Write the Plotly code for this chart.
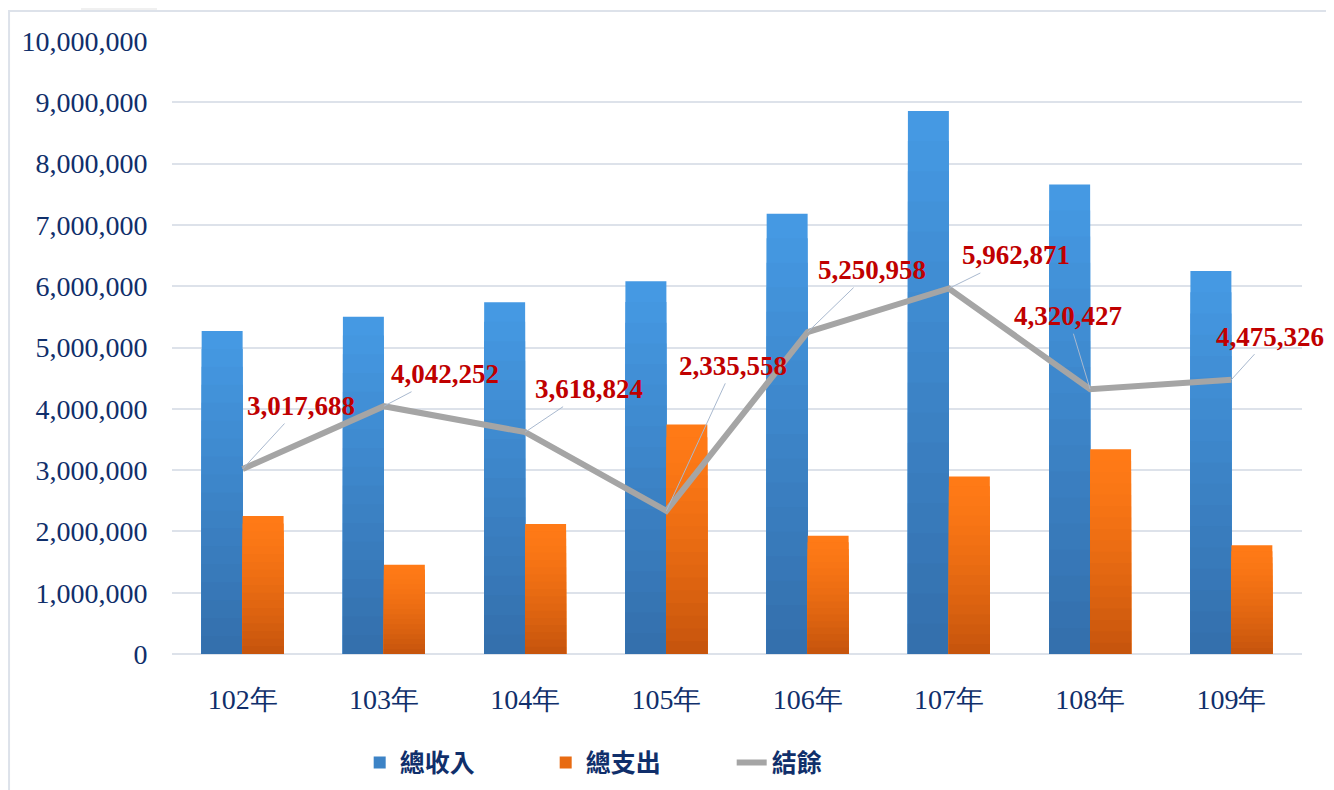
import plotly.graph_objects as go

years = ["102年", "103年", "104年", "105年", "106年", "107年", "108年", "109年"]
income = [5270000, 5500000, 5740000, 6080000, 7180000, 8860000, 7660000, 6250000]
expense = [2252312, 1457748, 2121176, 3744442, 1929042, 2897129, 3339573, 1774674]
balance = [3017688, 4042252, 3618824, 2335558, 5250958, 5962871, 4320427, 4475326]
balance_labels = ["3,017,688", "4,042,252", "3,618,824", "2,335,558",
                  "5,250,958", "5,962,871", "4,320,427", "4,475,326"]
# label offsets (pixels) from each point
label_dx = [58, 61, 64, 67, 64, 67, -22, 39]
label_dy = [-63, -32, -43, -145, -62, -33, -73, -43]

navy = "#102F6B"
serif = "Liberation Serif, Times New Roman, serif"
cjk = "Noto Sans CJK TC, Noto Sans CJK SC, sans-serif"


def lerp(c1, c2, t):
    a = [int(c1[i:i + 2], 16) for i in (1, 3, 5)]
    b = [int(c2[i:i + 2], 16) for i in (1, 3, 5)]
    return "rgb(%d,%d,%d)" % tuple(round(a[j] + (b[j] - a[j]) * t) for j in range(3))


def gradient_bars(fig, name, values, top, bottom, group, steps=18, gamma=1.0):
    # each bar is painted as nested layers (lighter at top, darker at bottom)
    for k in range(steps):
        frac = (steps - k) / steps
        t = (k / (steps - 1)) ** gamma
        fig.add_trace(go.Bar(
            name=name, x=years, y=[v * frac for v in values],
            offsetgroup=group, legendgroup=group,
            showlegend=(k == steps // 2), hoverinfo="skip" if k else None,
            marker=dict(color=lerp(top, bottom, t), line=dict(width=0))))


fig = go.Figure()
gradient_bars(fig, "總收入", income, "#4599E3", "#3470AD", "inc")
gradient_bars(fig, "總支出", expense, "#FF7A16", "#C7550D", "exp", gamma=1.4)
fig.add_trace(go.Scatter(name="結餘", x=years, y=balance, mode="lines",
                         line=dict(color="#A5A5A5", width=6)))

for i in range(len(years)):
    fig.add_annotation(x=years[i], y=balance[i], xref="x", yref="y",
                       text="<b>" + balance_labels[i] + "</b>",
                       showarrow=True, arrowhead=0, arrowwidth=1,
                       arrowcolor="#A9B9CF", ax=label_dx[i], ay=label_dy[i],
                       standoff=0, borderpad=2,
                       font=dict(family=serif, size=27, color="#C00000"))

# outer frame and tab
fig.add_shape(type="rect", xref="paper", yref="paper",
              x0=-0.1442, x1=1.0257, y0=-0.35, y1=1.049,
              line=dict(color="#DDE2EA", width=2), fillcolor="rgba(0,0,0,0)",
              layer="below")
fig.add_shape(type="rect", xref="paper", yref="paper",
              x0=-0.0805, x1=-0.0133, y0=1.0506, y1=1.07,
              line=dict(width=0), fillcolor="#F0F0F0", layer="below")

fig.update_layout(
    width=1334, height=790,
    margin=dict(l=164, r=40, t=33, b=144),
    paper_bgcolor="white", plot_bgcolor="white",
    barmode="group", bargap=0.42, bargroupgap=0,
    showlegend=True,
    legend=dict(orientation="h", x=0.413, xanchor="center", y=-0.14, yanchor="top",
                font=dict(family=cjk, size=25, color=navy, weight="bold"),
                entrywidth=141, traceorder="normal"),
    xaxis=dict(range=[-0.5, 7.5], autorange=False,
               showgrid=False, showline=False, ticks="outside", ticklen=20,
               tickcolor="rgba(0,0,0,0)", automargin=False,
               tickfont=dict(family=serif, size=28, color=navy)),
    yaxis=dict(range=[0, 10000000], autorange=False, dtick=1000000, tickformat=",",
               showgrid=True, gridcolor="#DDE2EA", gridwidth=1.5,
               zeroline=True, zerolinecolor="#DDE2EA", zerolinewidth=1.5,
               ticks="outside", ticklen=18, tickcolor="rgba(0,0,0,0)",
               automargin=False,
               tickfont=dict(family=serif, size=28, color=navy)),
)

fig.write_html("out.html")
